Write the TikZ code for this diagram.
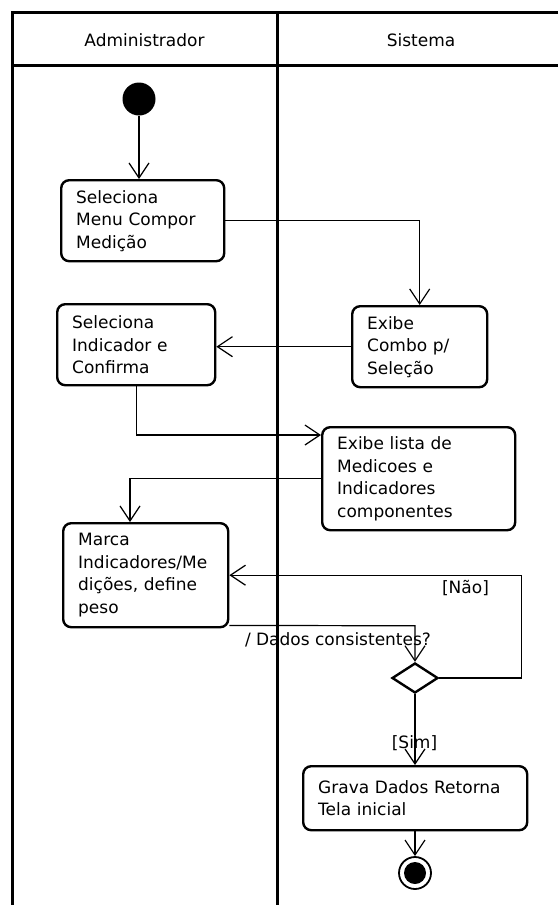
\documentclass[tikz,border=0pt]{standalone}
\usepackage{fontspec}
\setmainfont{DejaVu Sans}
\usetikzlibrary{arrows.meta,shapes.geometric,calc}
\begin{document}
\begin{tikzpicture}[x=1pt,y=-1pt,
  font=\fontsize{17}{22.5}\selectfont,
  frame/.style={line width=3pt},
  act/.style={draw,line width=2.4pt,rounded corners=8pt,anchor=north west,
    align=left,inner xsep=15pt,inner ysep=0pt},
  conn/.style={line width=1.2pt,-{Straight Barb[length=15pt,width=20pt]}},
  lbl/.style={inner sep=0pt}]
\useasboundingbox (0,0) rectangle (558,905);
% swimlane frame
\draw[frame] (558,12) -- (12,12) -- (12,905);
\draw[frame] (12,65) -- (558,65);
\draw[frame] (277,12) -- (277,905);
\node[lbl] (hadm) at (144.5,40.5) {Administrador};
\node[lbl] (hsis) at (421,40.5) {Sistema};
% nodes
\node[circle,fill=black,minimum size=33pt,inner sep=0pt] (start) at (139,99) {};
\node[act,text width=133pt,minimum height=81pt] (box1) at (60,179) {Seleciona\\Menu Compor\\Medição};
\node[act,text width=128pt,minimum height=81pt] (selind) at (56,303) {Seleciona\\Indicador e\\Confirma};
\node[act,text width=105pt,minimum height=81pt] (exibe) at (351,305) {Exibe\\Combo p/\\Seleção};
\node[act,text width=163pt,minimum height=103pt] (lista) at (321,426) {Exibe lista de\\Medicoes e\\Indicadores\\componentes};
\node[act,text width=135pt,minimum height=104pt] (marca) at (62,522) {Marca\\Indicadores/Me\\dições, define\\peso};
\node[diamond,draw,line width=2.4pt,minimum width=46pt,minimum height=30pt,inner sep=0pt] (dec) at (415,678) {};
\node[act,text width=194pt,minimum height=64pt] (grava) at (302,765) {Grava Dados Retorna\\Tela inicial};
\node[circle,draw,line width=1.8pt,minimum size=32pt,inner sep=0pt] (final) at (415,873) {};
\node[circle,fill=black,minimum size=22pt,inner sep=0pt] (finaldot) at (final.center) {};
% connectors
\draw[conn] (start.south) -- (start.south |- box1.north);
\draw[conn] (box1.east) -| (exibe.north);
\draw[conn] (exibe.west) -- (exibe.west -| selind.east);
\draw[conn] (selind.south) |- ($(lista.north west)+(0,9)$);
\draw[conn] (lista.west) -| ($(marca.north west)+(68,0)$);
\draw[conn] ($(marca.south east)+(0,-3)$) -- ($(dec.north)+(0,-36)$) -- (dec.north);
\draw[conn] (dec.east) -- ++(82,0) |- (marca.east);
\draw[conn] (dec.south) -- (dec.south |- grava.north);
\draw[conn] (final.north |- grava.south) -- (final.north);
% labels
\node[lbl] (ldados) at (338,640) {/ Dados consistentes?};
\node[lbl] (lnao) at (465.5,588) {[Não]};
\node[lbl] (lsim) at (414.5,743) {[Sim]};
\end{tikzpicture}
\end{document}
